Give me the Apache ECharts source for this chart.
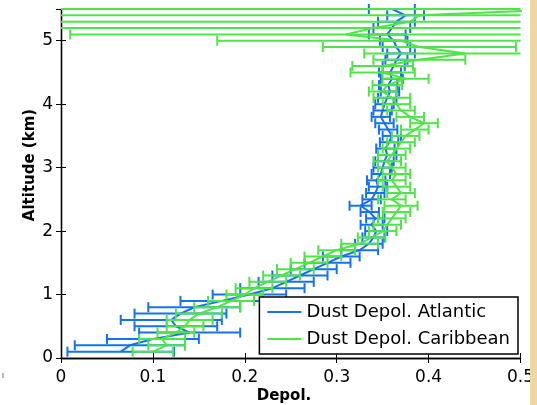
<!DOCTYPE html>
<html>
<head>
<meta charset="utf-8">
<script src="https://cdn.jsdelivr.net/npm/echarts@6/dist/echarts.min.js"></script>
<style>html,body{margin:0;padding:0;background:#fff;}#c{width:537px;height:405px;}</style>
</head>
<body>
<div id="c"></div>
<script>
// Altitude levels (km)
const altitudes = [0.1,0.2,0.3,0.4,0.5,0.6,0.7,0.8,0.9,1.0,
  1.1,1.2,1.3,1.4,1.5,1.6,1.7,1.8,1.9,2.0,
  2.1,2.2,2.3,2.4,2.5,2.6,2.7,2.8,2.9,3.0,
  3.1,3.2,3.3,3.4,3.5,3.6,3.7,3.8,3.9,4.0,
  4.1,4.2,4.3,4.4,4.5,4.6,4.7,4.8,4.9,5.0,
  5.1,5.2,5.3,5.4,5.5];

// Dust Depol. Atlantic
const atlanticDepol = [0.065,0.075,0.100,0.140,0.125,0.120,0.130,0.145,0.175,0.205,
  0.230,0.245,0.260,0.275,0.290,0.305,0.325,0.335,0.340,0.343,
  0.338,0.342,0.336,0.326,0.338,0.342,0.345,0.343,0.348,0.350,
  0.352,0.355,0.353,0.357,0.360,0.356,0.352,0.348,0.350,0.352,
  0.355,0.358,0.356,0.360,0.358,0.362,0.365,0.370,0.365,0.362,
  0.355,0.360,0.365,0.375,0.360];
const atlanticErr = [0.058,0.060,0.050,0.055,0.045,0.055,0.050,0.050,0.045,0.040,
  0.035,0.030,0.030,0.025,0.025,0.020,0.020,0.015,0.012,0.012,
  0.012,0.010,0.010,0.012,0.010,0.010,0.010,0.010,0.010,0.010,
  0.010,0.010,0.010,0.010,0.010,0.010,0.010,0.010,0.010,0.010,
  0.010,0.010,0.010,0.012,0.012,0.012,0.012,0.015,0.015,0.015,
  0.020,0.020,0.020,0.020,0.025];

// Dust Depol. Caribbean
const caribbeanDepol = [0.100,0.115,0.110,0.125,0.135,0.140,0.150,0.170,0.185,0.200,
  0.210,0.225,0.240,0.255,0.270,0.285,0.300,0.325,0.338,0.350,
  0.355,0.360,0.365,0.370,0.360,0.370,0.365,0.360,0.365,0.360,
  0.355,0.360,0.365,0.370,0.375,0.385,0.395,0.380,0.370,0.365,
  0.360,0.350,0.355,0.375,0.350,0.350,0.390,0.440,0.390,0.370,
  0.310,0.340,0.380,0.390,0.550];
const caribbeanErr = [0.022,0.020,0.025,0.020,0.020,0.025,0.025,0.025,0.025,0.020,
  0.020,0.020,0.020,0.020,0.020,0.020,0.020,0.020,0.015,0.015,
  0.015,0.015,0.015,0.018,0.015,0.015,0.015,0.015,0.015,0.015,
  0.015,0.015,0.015,0.015,0.015,0.015,0.015,0.015,0.015,0.015,
  0.020,0.015,0.016,0.025,0.035,0.033,0.050,0.110,0.105,0.200,
  0.300,0.350,0.400,0.400,0.600];

const xTicks = ['0','0.1','0.2','0.3','0.4','0.5'];
const yTicks = ['0','1','2','3','4','5'];

const BLUE = '#1570f2';
const GREEN = '#4fe447';

function lineData(vals){ return altitudes.map((a,i)=>[vals[i], a]); }
function errData(vals, errs){ return altitudes.map((a,i)=>[vals[i], a, vals[i]-errs[i], vals[i]+errs[i]]); }

function errRender(color){
  return function(params, api){
    const y = api.value(1), lo = api.value(2), hi = api.value(3);
    const p1 = api.coord([lo, y]), p2 = api.coord([hi, y]);
    const cs = params.coordSys;
    const xmin = cs.x, xmax = cs.x + cs.width;
    const x1 = Math.max(p1[0], xmin), x2 = Math.min(p2[0], xmax);
    const st = {stroke: color, lineWidth: 2};
    const h = 5;
    const ch = [{type:'line', shape:{x1:x1, y1:p1[1], x2:x2, y2:p1[1]}, style:st}];
    if (p1[0] >= xmin - 0.5) ch.push({type:'line', shape:{x1:p1[0], y1:p1[1]-h, x2:p1[0], y2:p1[1]+h}, style:st});
    if (p2[0] <= xmax + 0.5) ch.push({type:'line', shape:{x1:p2[0], y1:p2[1]-h, x2:p2[0], y2:p2[1]+h}, style:st});
    return {type:'group', children: ch};
  };
}

const FONT = 'DejaVu Sans';
const chart = echarts.init(document.getElementById('c'), null, {renderer:'canvas'});
const axisLine = {show:true, lineStyle:{color:'#000', width:1.3}};
const tick = {show:true, inside:true, length:5, lineStyle:{color:'#000'}};

chart.setOption({
  animation:false,
  backgroundColor:'#fff',
  grid:{left:61, right:15, top:9, bottom:47, containLabel:false},
  xAxis:[
    {type:'value', min:0, max:0.5, interval:0.1, position:'bottom',
     axisLine:axisLine, axisTick:tick, splitLine:{show:false},
     axisLabel:{color:'#000', fontFamily:FONT, fontSize:17, margin:11,
       formatter:(v)=>{const i=Math.round(v*10); return xTicks[i]!==undefined? xTicks[i]:'';}}},
    {type:'value', min:0, max:0.5, interval:0.1, position:'top',
     axisLine:axisLine, axisTick:tick, splitLine:{show:false}, axisLabel:{show:false}}
  ],
  yAxis:[
    {type:'value', min:0, max:5.5, interval:1, position:'left',
     axisLine:axisLine, axisTick:tick, splitLine:{show:false},
     axisLabel:{color:'#000', fontFamily:FONT, fontSize:17, margin:8,
       formatter:(v)=>{return Number.isInteger(v) && yTicks[v]!==undefined ? yTicks[v] : '';}}},
    {type:'value', min:0, max:5.5, interval:1, position:'right',
     axisLine:axisLine, axisTick:tick, splitLine:{show:false}, axisLabel:{show:false}}
  ],
  legend:{
    orient:'vertical', right:19, bottom:51,
    backgroundColor:'#fff', borderColor:'#000', borderWidth:1.5,
    padding:[6,8,6,8], itemGap:9,
    icon:'rect', itemWidth:34, itemHeight:2,
    textStyle:{color:'#000', fontFamily:FONT, fontSize:18, lineHeight:18},
    data:['Dust Depol. Atlantic','Dust Depol. Caribbean']
  },
  series:[
    {name:'Dust Depol. Atlantic', type:'line', data:lineData(atlanticDepol),
     showSymbol:false, symbol:'none', lineStyle:{color:BLUE, width:2}, itemStyle:{color:BLUE}, z:2},
    {name:'Dust Depol. Atlantic', type:'custom', data:errData(atlanticDepol, atlanticErr),
     renderItem:errRender(BLUE), encode:{x:[0,2,3], y:1}, itemStyle:{color:BLUE}, z:2},
    {name:'Dust Depol. Caribbean', type:'line', data:lineData(caribbeanDepol),
     showSymbol:false, symbol:'none', lineStyle:{color:GREEN, width:2}, itemStyle:{color:GREEN}, z:3},
    {name:'Dust Depol. Caribbean', type:'custom', data:errData(caribbeanDepol, caribbeanErr),
     renderItem:errRender(GREEN), encode:{x:[0,2,3], y:1}, itemStyle:{color:GREEN}, z:3}
  ],
  graphic:[
    {type:'text', x:30, y:165, rotation:Math.PI/2, z:10,
     style:{text:'Altitude (km)', fill:'#000', font:'bold 15px "DejaVu Sans"', textAlign:'center', textVerticalAlign:'middle'}},
    {type:'text', x:284, y:396, z:10,
     style:{text:'Depol.', fill:'#000', font:'bold 15px "DejaVu Sans"', textAlign:'center', textVerticalAlign:'middle'}},
    {type:'rect', shape:{x:530, y:0, width:7, height:405}, style:{fill:'#ead9a3'}, z:20},
    {type:'rect', shape:{x:2, y:373, width:2, height:5}, style:{fill:'#bbb'}, z:20}
  ]
});
</script>
</body>
</html>
